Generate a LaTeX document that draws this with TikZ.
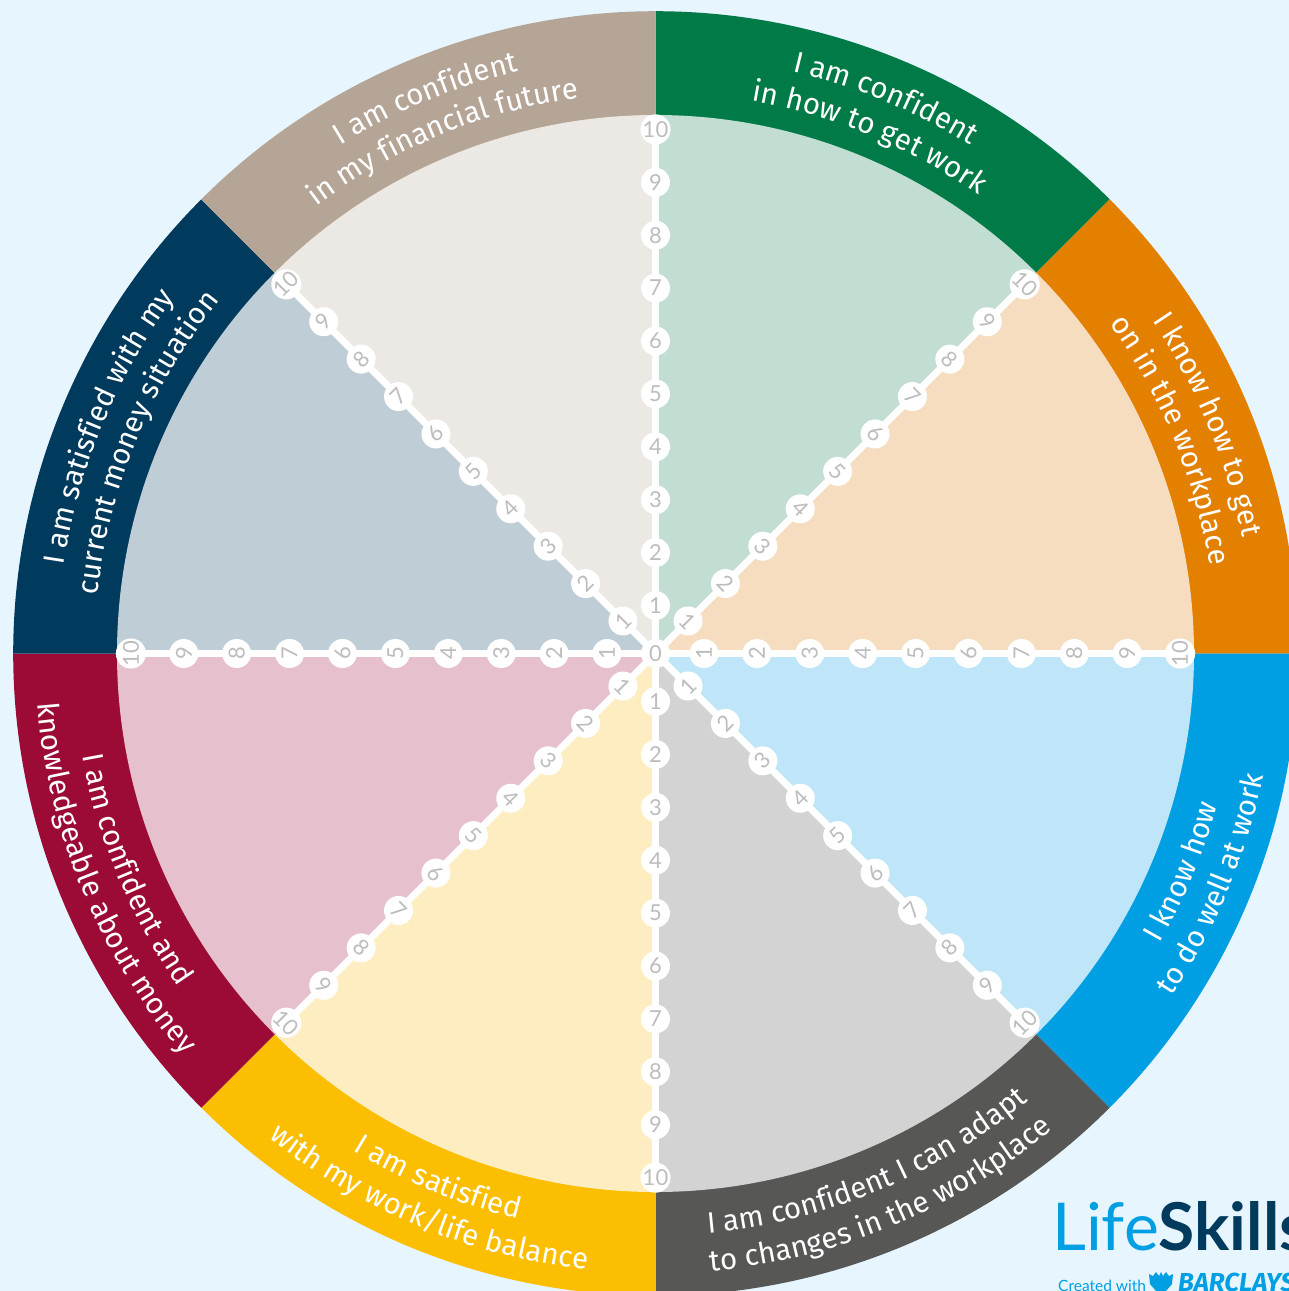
\documentclass[tikz,border=0pt]{standalone}
\usepackage{fontspec}
\setmainfont{Fira Sans}
\newfontfamily\latof{Lato}
\usetikzlibrary{decorations.text}
\definecolor{bgc}{HTML}{E7F5FE}
\definecolor{cgreen}{HTML}{007B48}\definecolor{lgreen}{HTML}{C2DDD2}
\definecolor{corange}{HTML}{E48000}\definecolor{lorange}{HTML}{F7DDC0}
\definecolor{cblue}{HTML}{009FE3}\definecolor{lblue}{HTML}{BFE6F8}
\definecolor{cgrey}{HTML}{575756}\definecolor{lgrey}{HTML}{D3D3D3}
\definecolor{cyellow}{HTML}{FBBE00}\definecolor{lyellow}{HTML}{FEEDC0}
\definecolor{ccrim}{HTML}{9C0A36}\definecolor{lcrim}{HTML}{E6C1CD}
\definecolor{cnavy}{HTML}{003A5D}\definecolor{lnavy}{HTML}{BFCDD7}
\definecolor{ctaupe}{HTML}{B4A596}\definecolor{ltaupe}{HTML}{ECE8E3}
\definecolor{numc}{HTML}{BDBDBD}
\newcommand{\bandfont}{\fontsize{29.5}{29.5}\selectfont\color{white}}
\newcommand{\cwlabel}[3]{\path[decorate,decoration={text along path,text align=center,text={|\bandfont|#3}}]
  ([shift={(#1+40:#2)}]c) arc[start angle=#1+40,end angle=#1-40,radius=#2];}
\newcommand{\ccwlabel}[3]{\path[decorate,decoration={text along path,text align=center,text={|\bandfont|#3}}]
  ([shift={(#1-40:#2)}]c) arc[start angle=#1-40,end angle=#1+40,radius=#2];}
\tikzset{
  numdot/.style={circle,fill=white,minimum size=29pt,inner sep=0pt,text=numc,font=\latof\fontsize{22}{22}\selectfont},
  spoke/.style={draw=white,line width=7pt},
}
\begin{document}
\begin{tikzpicture}[x=1pt,y=1pt]
\useasboundingbox (0,0) rectangle (1289,-1291);
\clip (0,0) rectangle (1289,-1291);
\fill[bgc] (0,0) rectangle (1289,-1291);
\coordinate (c) at (655.5,-653.5);
\foreach \s/\o/\l in {45/cgreen/lgreen,0/corange/lorange,-45/cblue/lblue,-90/cgrey/lgrey,-135/cyellow/lyellow,-180/ccrim/lcrim,135/cnavy/lnavy,90/ctaupe/ltaupe}{
  \fill[\o] (c) -- ([shift={(\s:642.3)}]c) arc[start angle=\s,delta angle=45,radius=642.3] -- cycle;
  \fill[\l] (c) -- ([shift={(\s:538.5)}]c) arc[start angle=\s,delta angle=45,radius=538.5] -- cycle;
}
\foreach \a in {90,45,0,-45,-90,-135,180,135}{
  \coordinate (end\a) at ([shift={(\a:522)}]c);
  \draw[spoke] (c) -- (end\a);
}
\foreach \a/\rot/\ra in {90/0/48,45/-45/46,0/90/48.5,-45/45/46,-90/0/48,-135/-45/46,180/90/48.5,135/45/46}{
  \foreach \k in {1,...,10}{
    \node[numdot,rotate=\rot] (n\a-\k) at ([shift={(\a:{\ra+52.9*(\k-1)})}]c) {\k};
  }
}
\node[numdot] (zero) at (c) {0};
\cwlabel{67.5}{598}{I am confident}
\cwlabel{67.5}{561}{in how to get work}
\cwlabel{22.5}{598}{I know how to get}
\cwlabel{22.5}{561}{on in the workplace}
\ccwlabel{-22.5}{582}{I know how}
\ccwlabel{-22.5}{620}{to do well at work}
\ccwlabel{-67.5}{582}{I am confident I can adapt}
\ccwlabel{-67.5}{620}{to changes in the workplace}
\ccwlabel{-112.5}{582}{I am satisfied}
\ccwlabel{-112.5}{620}{with my work/life balance}
\ccwlabel{-157.5}{582}{I am confident and}
\ccwlabel{-157.5}{620}{knowledgeable about money}
\cwlabel{157.5}{598}{I am satisfied with my}
\cwlabel{157.5}{561}{current money situation}
\cwlabel{112.5}{598}{I am confident}
\cwlabel{112.5}{561}{in my financial future}
\node[anchor=base west,inner sep=0pt,font=\fontsize{66}{66}\selectfont] (logo) at (1052,-1250) {\textcolor{cblue}{\latof Life}\textcolor{cnavy}{\latof\textbf{Skills}}};
\node[anchor=base west,inner sep=0pt,font=\latof\fontsize{15.5}{16}\selectfont,text=cblue] (created) at (1058,-1291) {Created with};
\node[anchor=base west,inner sep=0pt,font=\fontsize{26}{26}\selectfont\bfseries\itshape,text=cblue] (barclays) at (1178,-1291) {BARCLAYS};
\fill[cblue] (1161,-1272) -- (1159,-1276) -- (1156,-1272) -- (1153,-1276) -- (1149,-1274) -- (1150,-1284) -- (1156,-1291) -- (1166,-1291) -- (1172,-1284) -- (1173,-1274) -- (1169,-1276) -- (1166,-1272) -- (1163,-1276) -- cycle;
\end{tikzpicture}
\end{document}
